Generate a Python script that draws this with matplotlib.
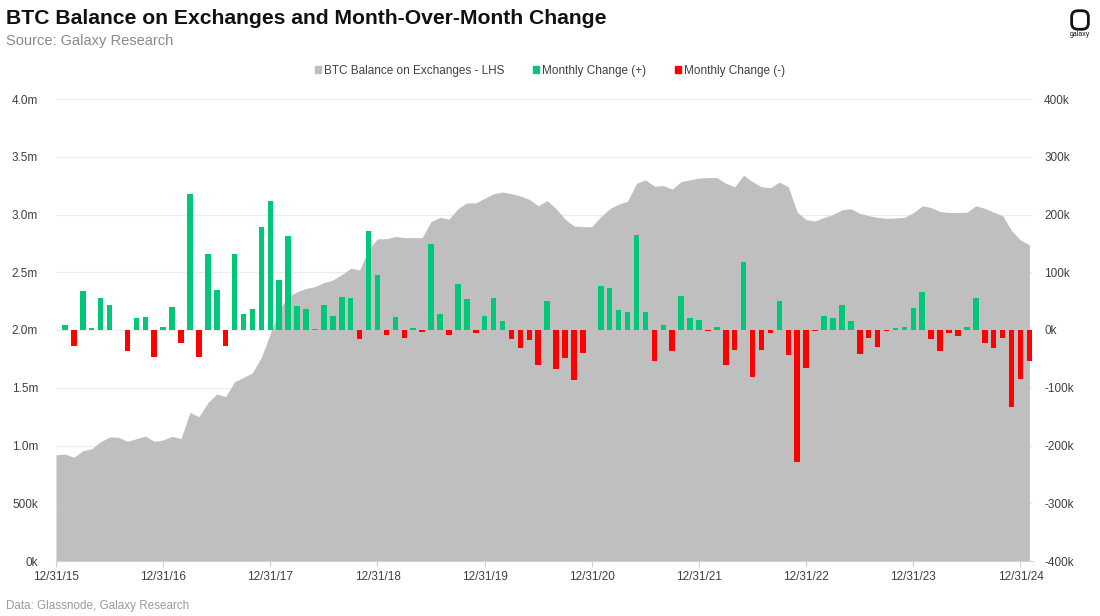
import matplotlib
matplotlib.use("Agg")
import matplotlib.pyplot as plt
from matplotlib.patches import FancyBboxPatch, Patch
import numpy as np

plt.rcParams['font.family'] = ['Liberation Sans', 'DejaVu Sans']

# x labels, one per year end
tick_labels = ['12/31/15', '12/31/16', '12/31/17', '12/31/18', '12/31/19',
               '12/31/20', '12/31/21', '12/31/22', '12/31/23', '12/31/24']

# BTC on exchanges, millions (Dec 2015 .. Jan 2025)
balance_m = [0.920, 0.926, 0.898, 0.955, 0.972, 1.033, 1.074, 1.071, 1.036, 1.059, 1.082, 1.036,
             1.048, 1.080, 1.059, 1.287, 1.250, 1.370, 1.446, 1.423, 1.553, 1.590, 1.630, 1.764,
             1.970, 2.180, 2.290, 2.330, 2.360, 2.375, 2.410, 2.433, 2.480, 2.535, 2.520, 2.700,
             2.790, 2.790, 2.810, 2.800, 2.800, 2.800, 2.940, 2.975, 2.960, 3.050, 3.100, 3.100,
             3.140, 3.180, 3.195, 3.180, 3.160, 3.130, 3.075, 3.120, 3.050, 2.960, 2.900, 2.895,
             2.895, 2.980, 3.050, 3.090, 3.115, 3.270, 3.300, 3.245, 3.250, 3.220, 3.285, 3.300,
             3.315, 3.320, 3.320, 3.270, 3.240, 3.340, 3.283, 3.240, 3.232, 3.280, 3.240, 3.020,
             2.955, 2.944, 2.975, 3.000, 3.040, 3.050, 3.010, 2.990, 2.975, 2.967, 2.970, 2.975,
             3.015, 3.075, 3.060, 3.025, 3.018, 3.016, 3.020, 3.076, 3.053, 3.020, 2.990, 2.860,
             2.780, 2.736]

# month over month change, thousands
change_k = [0, 8, -27, 67, 3.5, 55, 44, 0.5, -37, 20, 23, -46,
            6, 39, -22, 236, -46, 131, 69, -27, 131, 28, 36, 178,
            224, 86, 162, 41, 37, 1.5, 44, 25, 57, 55, -16, 172,
            96, -9, 23, -13, 4, -4, 149, 27, -9, 79, 53, -6,
            24, 56, 15, -15, -32, -18, -60, 51, -67, -49, -86, -39,
            0.5, 77, 72, 34, 32, 164, 31, -54, 9, -37, 59, 20,
            17, -1, 6, -60, -35, 117, -81, -35, -6, 50, -43, -228,
            -65, -1, 24, 20, 44, 15, -41, -13, -30, -1, 4, 5,
            38, 66, -15, -36, -6, -10, 6, 56, -22, -32, -13, -133,
            -85, -54]

grey = '#bfbfbf'
green = '#00c878'
red = '#ff0000'
txt = '#404040'

months = np.arange(len(balance_m))
balance = np.array(balance_m) * 1e6
change = np.array(change_k) * 1e3

fig = plt.figure(figsize=(11, 6.16), dpi=100)
ax = fig.add_axes([56 / 1100, 55 / 616, 977 / 1100, 462 / 616])

ax.fill_between(months, balance, color=grey, lw=0, zorder=2)
ax.set_xlim(0, 109.4)
ax.set_ylim(0, 4e6)
yt = np.arange(0, 4.01e6, 0.5e6)
ax.set_yticks(yt)
ax.set_yticklabels(['0k', '500k', '1.0m', '1.5m', '2.0m', '2.5m', '3.0m', '3.5m', '4.0m'])
ax.set_xticks(np.arange(0, 109, 12))
ax.set_xticklabels(tick_labels)
ax.grid(axis='y', color='#ececec', lw=0.8)
ax.set_axisbelow(True)
ax.tick_params(axis='y', length=0, pad=13, labelsize=8.5, labelcolor=txt)
ax.tick_params(axis='x', length=4, color='#d0d0d0', pad=3, labelsize=8.5, labelcolor=txt)
for s in ['top', 'right', 'left']:
    ax.spines[s].set_visible(False)
ax.spines['bottom'].set_color('#d0d0d0')

ax2 = ax.twinx()
colors = [green if v >= 0 else red for v in change]
ax2.bar(months, change, width=0.62, color=colors, lw=0, zorder=3)
ax2.set_ylim(-4e5, 4e5)
ax2.set_yticks(np.arange(-4e5, 4.01e5, 1e5))
ax2.set_yticklabels(['-400k', '-300k', '-200k', '-100k', '0k', '100k', '200k', '300k', '400k'])
ax2.tick_params(axis='y', length=0, pad=8, labelsize=8.5, labelcolor=txt)
for s in ax2.spines.values():
    s.set_visible(False)

handles = [Patch(color=grey), Patch(color=green), Patch(color=red)]
labels = ['BTC Balance on Exchanges - LHS', 'Monthly Change (+)', 'Monthly Change (-)']
fig.legend(handles, labels, loc='center', bbox_to_anchor=(0.5, 1 - 71 / 616), ncol=3,
           frameon=False, fontsize=8.5, handlelength=0.5, handleheight=0.5,
           handletextpad=0.3, columnspacing=2.4, labelcolor=txt)

fig.text(6 / 1100, 1 - 18 / 616, 'BTC Balance on Exchanges and Month-Over-Month Change',
         fontsize=15.2, fontweight='bold', ha='left', va='center', color='#111111')
fig.text(6 / 1100, 1 - 41 / 616, 'Source: Galaxy Research', fontsize=10.5,
         ha='left', va='center', color='#8a8a8a')
fig.text(6 / 1100, 1 - 606 / 616, 'Data: Glassnode, Galaxy Research', fontsize=8.4,
         ha='left', va='center', color='#9a9a9a')

# logo
lax = fig.add_axes([1069 / 1100, 1 - 31 / 616, 22 / 1100, 22 / 616])
lax.set_xlim(0, 1)
lax.set_ylim(0, 1)
lax.axis('off')
lax.add_patch(FancyBboxPatch((0.12, 0.08), 0.76, 0.84, boxstyle='round,pad=0,rounding_size=0.28',
                             fc='white', ec='#111111', lw=2))
fig.text(1080 / 1100, 1 - 35 / 616, 'galaxy', fontsize=5, ha='center', va='center', color='#111111')

fig.savefig('out.png', dpi=100)
